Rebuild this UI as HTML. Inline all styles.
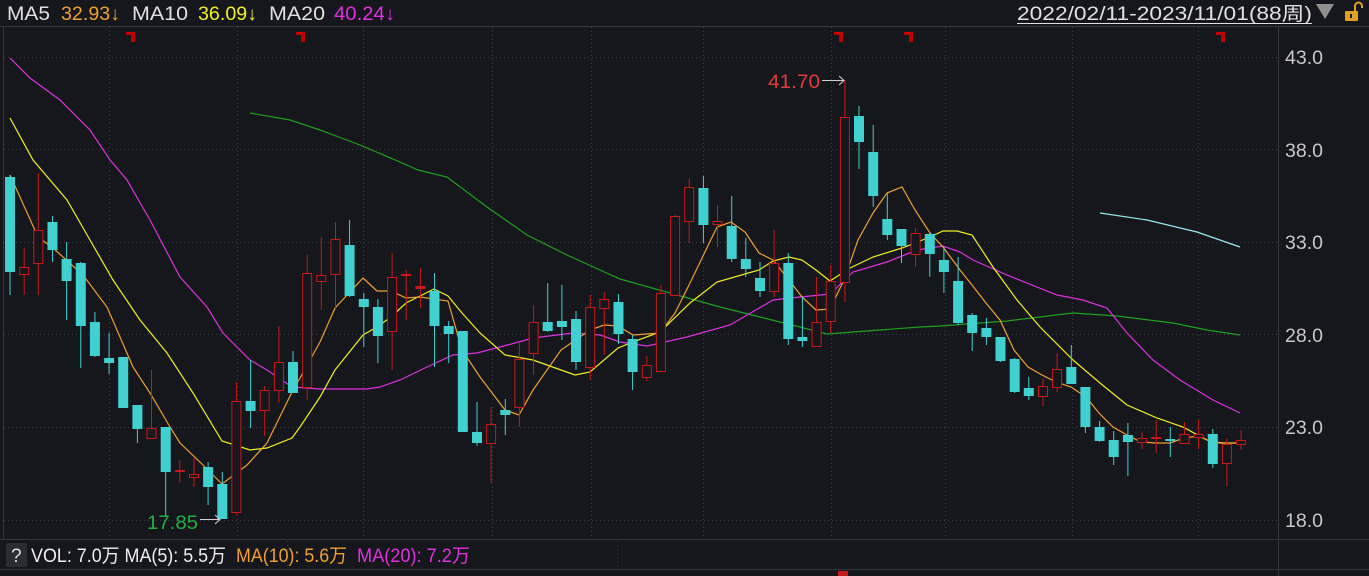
<!DOCTYPE html>
<html><head><meta charset="utf-8"><style>
html,body{margin:0;padding:0;background:#15171c;}
body{width:1369px;height:576px;overflow:hidden;position:relative;font-family:"Liberation Sans","Noto Sans CJK SC",sans-serif;}
svg{position:absolute;left:0;top:0;}
.t{font-family:"Liberation Sans","Noto Sans CJK SC",sans-serif;}
</style></head><body>
<svg width="1369" height="576" viewBox="0 0 1369 576" xmlns="http://www.w3.org/2000/svg">
<rect width="1369" height="576" fill="#15171c"/>
<line x1="0" y1="26.5" x2="1369" y2="26.5" stroke="#34373d"/>
<line x1="3.5" y1="27" x2="3.5" y2="540" stroke="#34373d"/>
<line x1="1278.5" y1="27" x2="1278.5" y2="576" stroke="#34373d"/>
<line x1="0" y1="539.5" x2="1369" y2="539.5" stroke="#34373d"/>
<line x1="0" y1="569.5" x2="1369" y2="569.5" stroke="#34373d"/>
<g stroke="#3a3d44" stroke-dasharray="1,3">
<line x1="4" y1="57.5" x2="1278" y2="57.5"/><line x1="4" y1="149.5" x2="1278" y2="149.5"/><line x1="4" y1="242.5" x2="1278" y2="242.5"/><line x1="4" y1="334.5" x2="1278" y2="334.5"/><line x1="4" y1="427.5" x2="1278" y2="427.5"/><line x1="4" y1="520.5" x2="1278" y2="520.5"/>
<line x1="109.5" y1="27" x2="109.5" y2="539"/><line x1="237.5" y1="27" x2="237.5" y2="539"/><line x1="363.5" y1="27" x2="363.5" y2="539"/><line x1="492.5" y1="27" x2="492.5" y2="539"/><line x1="591.5" y1="27" x2="591.5" y2="539"/><line x1="703.5" y1="27" x2="703.5" y2="539"/><line x1="831.5" y1="27" x2="831.5" y2="539"/><line x1="945.5" y1="27" x2="945.5" y2="539"/><line x1="1072.5" y1="27" x2="1072.5" y2="539"/><line x1="1198.5" y1="27" x2="1198.5" y2="539"/>
<line x1="287.5" y1="541" x2="287.5" y2="569"/><line x1="617.5" y1="541" x2="617.5" y2="569"/>
</g>
<g fill="#c00000">
<path d="M126 32h9v10h-4v-7h-5z"/><path d="M296 32h9v10h-4v-7h-5z"/><path d="M834 32h9v10h-4v-7h-5z"/><path d="M904 32h9v10h-4v-7h-5z"/><path d="M1216 32h9v10h-4v-7h-5z"/>
</g>
<g fill="none" stroke-width="1.2">
<polyline stroke="#1fa01f" points="250,113 290,120 320,130 360,145 400,162 418,170 447,177 487,207 527,235 567,255 600,270 620,279 677,295 720,307 760,317 800,327 827,334 853,332 920,327 940,326 1007,321 1073,313 1117,316 1173,323 1207,330 1240,335"/>
<polyline stroke="#9ae8f0" points="1100,213 1147,220 1197,232 1240,247"/>
<polyline stroke="#e030e0" points="10,58 30,78 60,100 90,130 110,160 127,180 150,220 180,277 207,307 223,333 250,360 267,370 292,387 320,389 367,389 380,387 400,380 427,367 453,355 477,353 500,347 533,338 573,333 600,335 620,342 647,346 687,337 730,325 773,300 800,297 830,294 853,272 887,262 917,250 943,246 960,252 973,260 1007,275 1057,295 1083,300 1107,308 1127,333 1153,360 1180,380 1213,400 1240,413"/>
<polyline stroke="#f0f020" points="10,118 33,160 67,200 90,240 113,280 140,320 167,353 193,393 222,441 250,450 267,448 292,438 300,427 320,397 335,370 363,335 377,327 391,317 406,303 434,289 448,296 462,313 480,333 505,355 533,360 561,370 575,375 590,372 618,348 633,342 660,332 690,303 717,282 745,274 759,270 773,261 789,257 802,260 816,270 830,281 850,268 873,257 902,248 915,243 930,237 943,231 957,231 972,235 993,267 1017,300 1040,327 1073,360 1100,383 1127,405 1157,418 1183,427 1207,440 1220,443 1240,443"/>
<polyline stroke="#f0a030" points="10,175 38,237 53,248 83,275 107,307 133,367 150,393 170,427 180,443 203,465 222,484 247,465 267,443 293,390 300,378 320,342 335,308 363,278 377,291 391,291 406,298 420,297 448,301 462,350 480,377 505,410 519,415 533,390 561,350 590,330 604,325 618,326 633,335 660,333 675,313 690,283 717,227 731,222 745,232 759,253 773,260 789,280 802,297 816,310 830,309 844,280 858,240 873,213 887,193 902,187 915,210 930,233 943,247 960,270 972,285 986,303 1000,320 1014,350 1028,367 1042,375 1056,382 1071,387 1086,397 1099,413 1113,427 1127,435 1141,442 1155,443 1170,443 1184,438 1198,436 1212,442 1226,443 1240,443"/>
</g>
<path stroke="#40d0d0" stroke-width="1" fill="none" d="M10,175V295M52.5,216V262M66.6,242V320M80.8,262V368M94.9,312V357M109.1,333V374M123.2,357V408M137.4,405V443M165.7,427V517M208.1,462V505M222.3,472V519M250.6,360V428M293,351V393M349.6,220V297M363.8,293V347M377.9,299V363M434.5,273V367M448.7,321V363M462.8,331V432M477,402V446M505.3,399V435M547.7,283V332M561.9,285V340M576,311V370M618.5,294V344M632.6,335V390M703.4,176V243M731.7,196V262M745.8,238V277M760,262V297M788.3,253V345M802.4,297V347M859,106V169M873.2,125V207M887.3,193V240M901.5,229V263M929.8,232V277M943.9,247V293M958.1,257V325M972.2,313V351M986.4,318V345M1000.5,337V362M1014.7,358V393M1028.8,377V400M1071.3,345V384M1085.4,387V433M1099.6,421V442M1113.7,431V465M1127.9,423V476M1170.3,427V457M1212.8,429V468"/>
<path stroke="#c81818" stroke-width="1" fill="none" d="M24.2,248V295M38.3,173V295M151.5,370V438M179.8,460V483M194,458V487M236.4,382V515M264.7,386V436M278.9,326V403M307.2,255V400M321.3,237V310M335.5,222V310M392.1,253V370M406.2,270V320M420.4,268V308M491.1,407V483M519.4,343V427M533.6,305V375M590.2,295V380M604.3,292V355M646.8,356V381M660.9,285V371M675.1,215V295M689.2,179V243M717.5,205V247M774.1,230V297M816.6,277V346M830.7,265V333M844.9,80V302M915.6,228V267M1043,379V406M1057.1,353V392M1142,432V449M1156.2,420V453M1184.5,422V444M1198.6,420V449M1226.9,439V486M1241.1,430V450"/>
<g fill="#40d0d0">
<rect x="5" y="177" width="10" height="95"/><rect x="47.5" y="222" width="10" height="28"/><rect x="61.6" y="259" width="10" height="22"/><rect x="75.8" y="263" width="10" height="63"/><rect x="89.9" y="322" width="10" height="34"/><rect x="104.1" y="358" width="10" height="5"/><rect x="118.2" y="357" width="10" height="51"/><rect x="132.4" y="405" width="10" height="24"/><rect x="160.7" y="427" width="10" height="45"/><rect x="203.1" y="467" width="10" height="20"/><rect x="217.3" y="484" width="10" height="35"/><rect x="245.6" y="401" width="10" height="10"/><rect x="288" y="362" width="10" height="31"/><rect x="344.6" y="245" width="10" height="51"/><rect x="358.8" y="299" width="10" height="8"/><rect x="372.9" y="307" width="10" height="29"/><rect x="429.5" y="291" width="10" height="35"/><rect x="443.7" y="326" width="10" height="8"/><rect x="457.8" y="331" width="10" height="101"/><rect x="472" y="432" width="10" height="11"/><rect x="500.3" y="410" width="10" height="5"/><rect x="542.7" y="322" width="10" height="9"/><rect x="556.9" y="321" width="10" height="6"/><rect x="571" y="319" width="10" height="43"/><rect x="613.5" y="302" width="10" height="32"/><rect x="627.6" y="339" width="10" height="33"/><rect x="698.4" y="188" width="10" height="37"/><rect x="726.7" y="226" width="10" height="33"/><rect x="740.8" y="259" width="10" height="10"/><rect x="755" y="278" width="10" height="13"/><rect x="783.3" y="263" width="10" height="76"/><rect x="797.4" y="337" width="10" height="4"/><rect x="854" y="116" width="10" height="26"/><rect x="868.2" y="152" width="10" height="44"/><rect x="882.3" y="219" width="10" height="16"/><rect x="896.5" y="229" width="10" height="17"/><rect x="924.8" y="234" width="10" height="20"/><rect x="938.9" y="260" width="10" height="12"/><rect x="953.1" y="281" width="10" height="42"/><rect x="967.2" y="315" width="10" height="18"/><rect x="981.4" y="328" width="10" height="9"/><rect x="995.5" y="337" width="10" height="24"/><rect x="1009.7" y="359" width="10" height="33"/><rect x="1023.8" y="388" width="10" height="8"/><rect x="1066.3" y="367" width="10" height="17"/><rect x="1080.4" y="387" width="10" height="40"/><rect x="1094.6" y="427" width="10" height="14"/><rect x="1108.7" y="440" width="10" height="17"/><rect x="1122.9" y="435" width="10" height="7"/><rect x="1165.3" y="439" width="10" height="2"/><rect x="1207.8" y="434" width="10" height="30"/>
</g>
<g fill="#15171c" stroke="#c81818" stroke-width="1">
<rect x="19.7" y="267.5" width="9" height="7"/><rect x="33.8" y="230.5" width="9" height="33"/><rect x="147" y="428.5" width="9" height="10"/><rect x="189.5" y="474.5" width="9" height="3"/><rect x="231.9" y="401.5" width="9" height="111"/><rect x="260.2" y="390.5" width="9" height="20"/><rect x="274.4" y="362.5" width="9" height="28"/><rect x="302.7" y="273.5" width="9" height="114"/><rect x="316.8" y="275.5" width="9" height="6"/><rect x="331" y="239.5" width="9" height="35"/><rect x="387.6" y="277.5" width="9" height="54"/><rect x="486.6" y="424.5" width="9" height="19"/><rect x="514.9" y="359.5" width="9" height="48"/><rect x="529.1" y="322.5" width="9" height="31"/><rect x="585.7" y="307.5" width="9" height="60"/><rect x="599.8" y="299.5" width="9" height="9"/><rect x="642.3" y="365.5" width="9" height="12"/><rect x="656.4" y="293.5" width="9" height="78"/><rect x="670.6" y="216.5" width="9" height="79"/><rect x="684.7" y="187.5" width="9" height="34"/><rect x="713" y="221.5" width="9" height="3"/><rect x="769.6" y="263.5" width="9" height="28"/><rect x="812.1" y="322.5" width="9" height="24"/><rect x="826.2" y="281.5" width="9" height="40"/><rect x="840.4" y="117.5" width="9" height="165"/><rect x="911.1" y="233.5" width="9" height="21"/><rect x="1038.5" y="386.5" width="9" height="10"/><rect x="1052.6" y="369.5" width="9" height="18"/><rect x="1137.5" y="438.5" width="9" height="4"/><rect x="1180" y="434.5" width="9" height="9"/><rect x="1194.1" y="434.5" width="9" height="3"/><rect x="1222.4" y="444.5" width="9" height="19"/><rect x="1236.6" y="440.5" width="9" height="4"/>
</g>
<g fill="#c81818">
<rect x="174.8" y="470" width="10" height="2"/><rect x="401.2" y="274" width="10" height="2"/><rect x="415.4" y="286" width="10" height="3"/><rect x="1151.2" y="437" width="10" height="2"/>
</g>
<text x="768" y="88" fill="#e03a3a" font-size="19" textLength="52" lengthAdjust="spacingAndGlyphs" class="t">41.70</text>
<path d="M822,80.5H844M839,76L844,80.5L839,85" stroke="#d0d0d0" fill="none" stroke-width="1"/>
<text x="147" y="529" fill="#20b040" font-size="19" textLength="51" lengthAdjust="spacingAndGlyphs" class="t">17.85</text>
<path d="M200,519.5H220M215,515L220,519.5L215,524" stroke="#d0d0d0" fill="none" stroke-width="1"/>
<g fill="#c8c8c8" font-size="19" class="t">
<text x="1285" y="64" textLength="38" lengthAdjust="spacingAndGlyphs">43.0</text><text x="1285" y="157" textLength="38" lengthAdjust="spacingAndGlyphs">38.0</text><text x="1285" y="249" textLength="38" lengthAdjust="spacingAndGlyphs">33.0</text><text x="1285" y="342" textLength="38" lengthAdjust="spacingAndGlyphs">28.0</text><text x="1285" y="434" textLength="38" lengthAdjust="spacingAndGlyphs">23.0</text><text x="1285" y="527" textLength="38" lengthAdjust="spacingAndGlyphs">18.0</text>
</g>
<g font-size="19" class="t" lengthAdjust="spacingAndGlyphs">
<text x="7" y="20" fill="#e0e0e0" textLength="43" lengthAdjust="spacingAndGlyphs">MA5</text><text x="61" y="20" fill="#f0a030" textLength="59" lengthAdjust="spacingAndGlyphs">32.93↓</text>
<text x="132" y="20" fill="#e0e0e0" textLength="56" lengthAdjust="spacingAndGlyphs">MA10</text><text x="198" y="20" fill="#f0f020" textLength="59" lengthAdjust="spacingAndGlyphs">36.09↓</text>
<text x="269" y="20" fill="#e0e0e0" textLength="56" lengthAdjust="spacingAndGlyphs">MA20</text><text x="334" y="20" fill="#e030e0" textLength="61" lengthAdjust="spacingAndGlyphs">40.24↓</text>
<text x="1017" y="20" fill="#e0e0e0" textLength="295" lengthAdjust="spacingAndGlyphs">2022/02/11-2023/11/01(88周)</text>
</g>
<line x1="1017" y1="23.5" x2="1312" y2="23.5" stroke="#e0e0e0"/>
<path d="M1316,4H1334L1325,19Z" fill="#909090"/>
<rect x="1345" y="11" width="13" height="10" rx="1" fill="#e0a020"/>
<path d="M1355,11V6A3.5,3.5 0 0 1 1362,6V8" stroke="#e0a020" stroke-width="2" fill="none"/>
<rect x="1350" y="14" width="2" height="4" fill="#15171c"/>
<rect x="6" y="543" width="21" height="24" rx="2" fill="#2a2d33"/>
<text x="11" y="562" fill="#e0e0e0" font-size="19" class="t">?</text>
<g font-size="19" class="t">
<text x="31" y="562" fill="#f0f0f0" textLength="195" lengthAdjust="spacingAndGlyphs">VOL: 7.0万 MA(5): 5.5万</text>
<text x="236" y="562" fill="#f0a030" textLength="111" lengthAdjust="spacingAndGlyphs">MA(10): 5.6万</text>
<text x="357" y="562" fill="#e030e0" textLength="113" lengthAdjust="spacingAndGlyphs">MA(20): 7.2万</text>
</g>
<rect x="838" y="571" width="10" height="5" fill="#c81818"/>
</svg>
</body></html>
